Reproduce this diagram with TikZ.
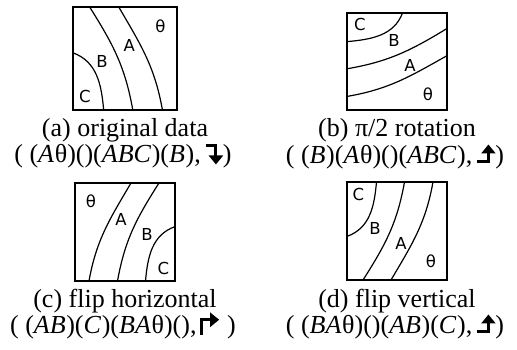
\documentclass[tikz,border=0pt]{standalone}
\usepackage{fontspec}
\setmainfont{Liberation Serif}
\newfontfamily\lblfont{DejaVu Sans}
\usetikzlibrary{arrows.meta}

\tikzset{
  frame/.style={line width=1.8pt},
  curve/.style={line width=1.2pt},
  lbl/.style={font=\lblfont\fontsize{16.5}{18}\selectfont, inner sep=0pt},
  captext/.style={font=\fontsize{26}{28}\selectfont, inner sep=0pt, anchor=center},
  glyph/.style={line width=3pt,-{Triangle[length=9pt,width=14pt]}},
}

% small glyph-like arrows
\newcommand\arrRD{\tikz[baseline=0pt,x=1pt,y=1pt]\draw[glyph] (0,17) -- (10,17) -- (10,-2);}
\newcommand\arrRU{\tikz[baseline=0pt,x=1pt,y=1pt]\draw[glyph] (0,1.5) -- (11,1.5) -- (11,19);}
\newcommand\arrUR{\tikz[baseline=0pt,x=1pt,y=1pt]\draw[glyph] (1.5,-1) -- (1.5,14) -- (19,14);}
\newcommand\mi[1]{\textit{#1}\kern0.6pt}

\newcommand\panelcontent[1]{%
  \draw[frame] (0,0) rectangle (1,1);
  \draw[curve] (0,0.555) .. controls (0.232,0.47) and (0.273,0.246) .. (0.295,0);
  \draw[curve] (0.16,1) .. controls (0.386,0.638) and (0.501,0.42) .. (0.575,0);
  \draw[curve] (0.44,1) .. controls (0.654,0.63) and (0.786,0.421) .. (0.86,0);
  \node[lbl] (#1t) at (0.84,0.81) {θ};
  \node[lbl] (#1A) at (0.54,0.63) {A};
  \node[lbl] (#1B) at (0.28,0.47) {B};
  \node[lbl] (#1C) at (0.115,0.13) {C};
}

\begin{document}
\begin{tikzpicture}[x=1pt,y=-1pt]
\useasboundingbox (0,0) rectangle (517,349);

% (a) original
\begin{scope}[shift={(73,110)}, x={(104pt,0pt)}, y={(0pt,103pt)}]
  \panelcontent{a}
\end{scope}
% (b) rotation (clockwise)
\begin{scope}[shift={(347,13)}, x={(0pt,-97pt)}, y={(100pt,0pt)}]
  \panelcontent{b}
\end{scope}
% (c) flip horizontal
\begin{scope}[shift={(175,281)}, x={(-100pt,0pt)}, y={(0pt,98pt)}]
  \panelcontent{c}
\end{scope}
% (d) flip vertical
\begin{scope}[shift={(347,182)}, x={(100pt,0pt)}, y={(0pt,-98pt)}]
  \panelcontent{d}
\end{scope}

\node[captext] (capa) at (125,130) {(a) original data};
\node[captext] (fa) at (123,156) {( (\mi{A}θ)()(\mi{ABC})(\mi{B}),\hspace{0.14em}\arrRD)};

\node[captext] (capb) at (397,130) {(b) π/2 rotation};
\node[captext] (fb) at (395,156) {( (\mi{B})(\mi{A}θ)()(\mi{ABC}),\hspace{0.14em}\arrRU)};

\node[captext] (capc) at (125,301) {(c) flip horizontal};
\node[captext] (fc) at (123,326) {( (\mi{AB})(\mi{C})(\mi{BA}θ)(),\hspace{0.14em}\arrUR\ )};

\node[captext] (capd) at (397,301) {(d) flip vertical};
\node[captext] (fd) at (395,326) {( (\mi{BA}θ)()(\mi{AB})(\mi{C}),\hspace{0.14em}\arrRU)};
\end{tikzpicture}
\end{document}
